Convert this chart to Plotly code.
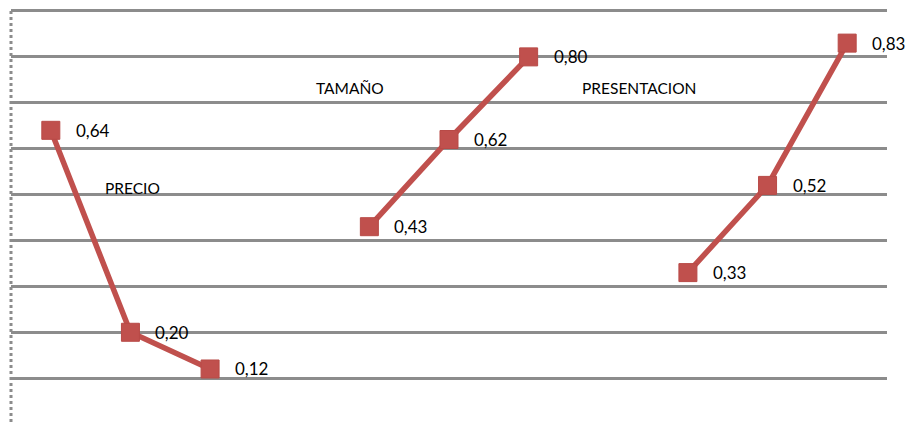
import plotly.graph_objects as go

# Factor scores per attribute group (three points each, gaps between groups)
precio_x = [0, 1, 2]
precio_y = [0.64, 0.20, 0.12]
tamano_x = [4, 5, 6]
tamano_y = [0.43, 0.62, 0.80]
present_x = [8, 9, 10]
present_y = [0.33, 0.52, 0.83]

group_names = ["PRECIO", "TAMAÑO", "PRESENTACION"]
group_label_x = [1.02, 3.76, 7.38]
group_label_y = [0.515, 0.733, 0.733]

RED = "#C0504D"
FONT = "Lato, 'Open Sans', sans-serif"

fig = go.Figure()
for xs, ys in [(precio_x, precio_y), (tamano_x, tamano_y), (present_x, present_y)]:
    fig.add_trace(go.Scatter(
        x=xs, y=ys, mode="lines+markers",
        line=dict(color=RED, width=5.5),
        marker=dict(symbol="square", size=18, color=RED,
                    line=dict(color="#B84A47", width=1)),
        showlegend=False, hoverinfo="skip",
    ))
    for xv, yv in zip(xs, ys):
        fig.add_annotation(
            x=xv, y=yv, text=f"{yv:.2f}".replace(".", ","),
            showarrow=False, xanchor="left", yanchor="middle",
            xshift=23, yshift=0,
            font=dict(family=FONT, size=17, color="#000000"),
        )

for name, lx, ly in zip(group_names, group_label_x, group_label_y):
    fig.add_annotation(
        x=lx, y=ly, text=name, showarrow=False,
        xanchor="center", yanchor="middle",
        font=dict(family=FONT, size=15.5, color="#000000"),
    )

# dotted vertical value axis on the left
fig.add_shape(type="line", xref="paper", yref="paper",
              x0=0, x1=0, y0=0, y1=1,
              line=dict(color="#8C8C8C", width=3, dash="dot"))

fig.update_layout(
    width=909, height=422,
    margin=dict(l=11, r=22, t=8, b=0),
    paper_bgcolor="white", plot_bgcolor="white",
    xaxis=dict(range=[-0.5, 10.5], showgrid=False, zeroline=False,
               showticklabels=False, showline=False, ticks=""),
    yaxis=dict(range=[0.0045, 0.9065], dtick=0.1, tick0=0,
               showgrid=True, gridcolor="#8C8C8C", gridwidth=3,
               zeroline=False, showticklabels=False, showline=False,
               ticks=""),
)

fig.write_html("out.html")
